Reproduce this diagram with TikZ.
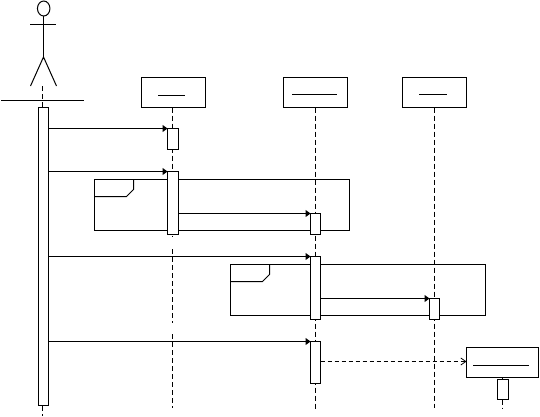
\documentclass[tikz,border=0pt]{standalone}
\usetikzlibrary{arrows.meta,shapes.geometric}
\begin{document}
\begin{tikzpicture}[
    x=1bp, y=-1bp,
    line width=1bp,
    object/.style={draw, rectangle, anchor=north west, inner sep=0pt, outer sep=0pt, minimum width=64bp, minimum height=30bp},
    activation/.style={draw, fill=white, rectangle, anchor=north west, inner sep=0pt, outer sep=0pt, minimum width=10bp},
    frag/.style={draw, rectangle, anchor=north west, inner sep=0pt, outer sep=0pt, minimum width=255bp, minimum height=51bp},
    life/.style={dash pattern=on 5bp off 3bp},
    call/.style={-{Triangle[length=5bp,width=7bp]}},
    create/.style={dash pattern=on 4bp off 3bp, -{Straight Barb[length=5bp,width=7bp,line width=0.8bp]}}
]
\useasboundingbox (0,0) rectangle (540,416);

% Actor
\node[draw, ellipse, minimum width=12.5bp, minimum height=15bp, inner sep=0pt, outer sep=0pt] (head) at (43.7,8.5) {};
\coordinate (hip) at (43.5,57);
\coordinate (armL) at (30,24.5);
\coordinate (armR) at (56,24.5);
\coordinate (footL) at (30.5,86);
\coordinate (footR) at (56.5,86);
\coordinate (floorL) at (1,100.5);
\coordinate (floorR) at (84,100.5);
\draw (head.south -| hip) -- (hip);
\draw (armL) -- (armR);
\draw (footL) -- (hip) -- (footR);
\draw (floorL) -- (floorR);

% Objects
\node[object] (boxA) at (141.5,77.5) {};
\node[object] (boxB) at (283.5,77.5) {};
\node[object] (boxC) at (402.5,77.5) {};
\node[object, minimum width=72bp] (boxD) at (466.5,347.5) {};

% Name underlines
\draw ([xshift=16.5bp,yshift=-18bp]boxA.north west) -- ([xshift=-20.5bp,yshift=-18bp]boxA.north east);
\draw ([xshift=8.5bp,yshift=-17bp]boxB.north west) -- ([xshift=-10.5bp,yshift=-17bp]boxB.north east);
\draw ([xshift=16.5bp,yshift=-17bp]boxC.north west) -- ([xshift=-19.5bp,yshift=-17bp]boxC.north east);
\draw ([xshift=6.5bp,yshift=-18bp]boxD.north west) -- ([xshift=-9.5bp,yshift=-18bp]boxD.north east);

% Fragments
\node[frag] (fragA) at (94.5,179.5) {};
\node[frag] (fragB) at (230.5,264.5) {};
\draw ([yshift=-17bp]fragA.north west) -- ++(32,0) -- ++(7,-7) -- ++(0,-10);
\draw ([yshift=-17bp]fragB.north west) -- ++(32,0) -- ++(7,-7) -- ++(0,-10);

% Lifelines
\coordinate (actorBase) at (42.5,86);
\coordinate (actorEnd) at (42.5,416);
\coordinate (lifeA) at (172.5,107.5);
\coordinate (stubA) at (172.5,237);
\coordinate (midA) at (172.5,249);
\coordinate (gapA) at (172.5,323);
\coordinate (backA) at (172.5,334);
\coordinate (endA) at (172.5,408);
\coordinate (lifeB) at (315.5,107.5);
\coordinate (endB) at (315.5,409);
\coordinate (lifeC) at (434.5,107.5);
\coordinate (endC) at (434.5,408);
\coordinate (endD) at (502.5,409);
\draw[life] (actorBase) -- (actorEnd);
\draw[life] (lifeA) -- (stubA);
\draw[life] (midA) -- (gapA);
\draw[life] (backA) -- (endA);
\draw[life] (lifeB) -- (endB);
\draw[life] (lifeC) -- (endC);

% Activations
\node[activation, minimum height=298bp] (actUser) at (38.5,107.5) {};
\node[activation, minimum width=11bp, minimum height=21bp] (actA1) at (167.5,128.5) {};
\node[activation, minimum width=11bp, minimum height=63bp] (actA2) at (167.5,171.5) {};
\node[activation, minimum height=21bp] (actB1) at (310.5,213.5) {};
\node[activation, minimum height=63bp] (actB2) at (310.5,256.5) {};
\node[activation, minimum height=42bp] (actB3) at (310.5,341.5) {};
\node[activation, minimum height=21bp] (actC1) at (429.5,298.5) {};
\node[activation, minimum width=11bp, minimum height=20bp] (actD1) at (497.5,379.5) {};
\draw (endD |- boxD.south) -- (endD |- actD1.north);
\draw[life] (endD |- actD1.south) -- (endD);

% Messages
\draw[call] (actUser.east |- actA1.north west) -- (actA1.north west);
\draw[call] (actUser.east |- actA2.north west) -- (actA2.north west);
\draw[call] (actA2.east |- actB1.north west) -- (actB1.north west);
\draw[call] (actUser.east |- actB2.north west) -- (actB2.north west);
\draw[call] (actB2.east |- actC1.north west) -- (actC1.north west);
\draw[call] (actUser.east |- actB3.north west) -- (actB3.north west);
\coordinate (createEnd) at ([yshift=1bp]boxD.west);
\draw[create] (actB3.east |- createEnd) -- (createEnd);

\end{tikzpicture}
\end{document}
